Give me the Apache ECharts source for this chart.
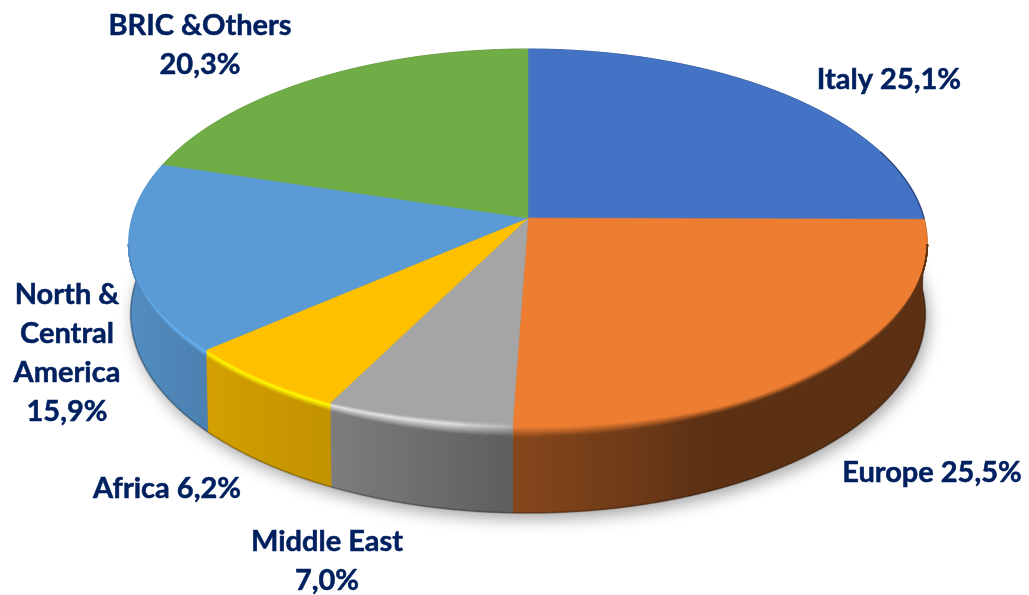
<!DOCTYPE html>
<html>
<head>
<meta charset="utf-8">
<style>
html, body { margin: 0; padding: 0; background: #fff; }
#container { width: 1029px; height: 595px; }
</style>
<script src="https://cdn.jsdelivr.net/npm/echarts@6/dist/echarts.min.js"></script>
</head>
<body>
<div id="container"></div>
<script>
// slices, clockwise from 12 o'clock
var names = ['Italy', 'Europe', 'Middle East', 'Africa', 'North & Central America', 'BRIC &Others'];
var values = [25.1, 25.5, 7.0, 6.2, 15.9, 20.3];
var labelLines = [
    ['Italy'],
    ['Europe'],
    ['Middle East', ''],
    ['Africa'],
    ['North &', 'Central', 'America', ''],
    ['BRIC &Others', '']
];
var colors = ['#4472c4', '#ed7d31', '#a5a5a5', '#ffc000', '#5b9bd5', '#70ad47'];
var glints = ['#4472c4', '#ed7d31', '#e2e2e2', '#ffff00', '#66b6fa', '#70ad47'];
var labelAt = [[889, 80], [932, 473], [327, 561], [167, 489], [67, 353], [200, 45]];

// projection of the tilted disc
var CX = 528, CY = 218, RX = 396, RY = 190.8, K = -0.129;
var ELLIPSE_MID = 243, STRIPS = 14;

// bevel height by screen y
var riseY = [243, 358, 411, 437];
var riseH = [0, 8, 8.5, 14];

// wall brightness, left to right
var shadeX = [130, 205, 330, 511, 650, 700, 928];
var shadeF = [0.90, 0.83, 0.76, 0.57, 0.45, 0.39, 0.39];
var glintX = [130, 200, 330, 450, 505, 530, 928];
var glintF = [0.7, 0.85, 1, 1, 0.3, 0, 0];

var mix = function(a, b, t) {
    return echarts.color.lerp(Math.max(0, Math.min(1, t)), [a, b]);
};

function lookup(xs, fs, x) {
    if (x <= xs[0]) {
        return fs[0];
    }
    for (var i = 1; i < xs.length; i++) {
        if (x <= xs[i]) {
            return fs[i - 1] + (fs[i] - fs[i - 1]) * (x - xs[i - 1]) / (xs[i] - xs[i - 1]);
        }
    }
    return fs[fs.length - 1];
}

function rim(t) {
    var u = Math.sin(t), v = -Math.cos(t), w = 1 + K * v;
    return [CX + RX * u / w, CY + RY * v / w, v];
}

function rise(p) {
    return lookup(riseY, riseH, p[1]);
}

function lower(p) {
    var d = 70 + 6 * p[2];
    return [CX + (p[0] - CX) * 0.995, p[1] + d];
}

// the flat face stops short of the rim, so the radial edge meets the bevel further round
function frontAngle(t) {
    var end = rim(t);
    if (end[2] <= 0) {
        return t;
    }
    var side = function(s) {
        var p = rim(s), y = p[1] - rise(p);
        return (end[0] - CX) * (y - CY) - (end[1] - CY) * (p[0] - CX);
    };
    var dir = t < Math.PI ? 1 : -1;
    var first = side(t);
    for (var s = t; (s - Math.PI) * dir < 0; s += dir * 0.002) {
        if (side(s) * first <= 0) {
            return s;
        }
    }
    return t;
}

function arcPoints(a, b) {
    var pts = [], n = Math.max(2, Math.ceil(Math.abs(b - a) / 0.01));
    for (var i = 0; i <= n; i++) {
        pts.push(rim(a + (b - a) * i / n));
    }
    return pts;
}

function xGradient(colorAt) {
    var stops = [];
    for (var x = 130; x <= 930; x += 20) {
        stops.push({ offset: (x - 130) / 800, color: colorAt(x) });
    }
    return new echarts.graphic.LinearGradient(130, 0, 930, 0, stops, true);
}

var total = values.reduce(function(a, b) { return a + b; }, 0);
var angles = [0];
values.forEach(function(v, i) {
    angles.push(angles[i] + v / total * Math.PI * 2);
});

function range(i) {
    return [frontAngle(angles[i]), frontAngle(angles[i + 1])];
}

function renderWall(params, api) {
    var i = api.value(0), r = range(i), top = arcPoints(r[0], r[1]);
    var fill = xGradient(function(x) {
        return mix('#000000', colors[i], lookup(shadeX, shadeF, x));
    });
    var bottom = top.map(lower);
    return {
        type: 'group',
        children: [{
            type: 'polygon',
            shape: { points: top.map(function(p) { return [p[0], p[1]]; }).concat(bottom.slice().reverse()) },
            style: { fill: fill, stroke: fill, lineWidth: 0.6 }
        }, {
            type: 'polyline',
            shape: { points: bottom },
            style: { fill: null, stroke: 'rgba(0,0,0,0.22)', lineWidth: 2 }
        }]
    };
}

function renderTop(params, api) {
    var i = api.value(0), r = range(i), arc = arcPoints(r[0], r[1]);
    var first = arc[0], last = arc[arc.length - 1];
    var pts = [[CX, CY], [first[0], first[1] - rise(first)]]
        .concat(arc.map(function(p) { return [p[0], p[1]]; }))
        .concat([[last[0], last[1] - rise(last)]]);
    var children = [{
        type: 'polygon',
        shape: { points: pts },
        style: { fill: colors[i], stroke: colors[i], lineWidth: 0.5 }
    }];

    // bevel along the front rim, inner strip first
    var front = arc.filter(function(p) { return p[1] >= ELLIPSE_MID; });
    if (front.length > 1) {
        for (var j = STRIPS; j >= 0; j--) {
            (function(f) {
                children.push({
                    type: 'polyline',
                    shape: {
                        points: front.map(function(p) {
                            return [p[0], p[1] - rise(p) * f];
                        })
                    },
                    style: {
                        fill: null,
                        lineWidth: 1.6,
                        stroke: xGradient(function(x) {
                            var peak = mix(colors[i], glints[i], lookup(glintX, glintF, x));
                            var wall = mix('#000000', colors[i], lookup(shadeX, shadeF, x));
                            return f > 0.7
                                ? mix(colors[i], peak, (1 - f) / 0.3)
                                : mix(peak, wall, 1 - f / 0.7);
                        })
                    }
                });
            })(j / STRIPS);
        }
    }
    if (i === 0) {
        children.push({
            type: 'polyline',
            shape: { points: arcPoints(1.2, r[1]) },
            style: { fill: null, stroke: 'rgba(20,40,90,0.5)', lineWidth: 1.6 }
        });
    }
    return { type: 'group', children: children };
}

function renderShadow() {
    return {
        type: 'polygon',
        shape: { points: arcPoints(0, Math.PI * 2).map(lower) },
        style: {
            fill: '#777',
            shadowColor: 'rgba(0,0,0,0.35)',
            shadowBlur: 16,
            shadowOffsetX: 3,
            shadowOffsetY: 6
        }
    };
}

var sliceData = values.map(function(v, i) { return [i, v, names[i]]; });

var labels = values.map(function(v, i) {
    var txt = v.toFixed(1).replace('.', ',') + '%';
    var lines = labelLines[i].slice();
    var tail = lines.pop();
    var text = lines.length ? lines.concat([(tail ? tail + ' ' : '') + txt]).join('\n') : tail + ' ' + txt;
    return {
        type: 'text',
        x: labelAt[i][0],
        y: labelAt[i][1],
        style: {
            text: text,
            fill: '#002060',
            stroke: '#002060',
            lineWidth: 0.5,
            font: 'bold 29px Lato, "Open Sans", sans-serif',
            lineHeight: 39,
            align: 'center',
            verticalAlign: 'middle'
        }
    };
});

var dom = document.getElementById('container');
var myChart = echarts.init(dom);
var option = {
    animation: false,
    backgroundColor: '#ffffff',
    tooltip: { show: false },
    graphic: labels,
    series: [{
        type: 'custom',
        coordinateSystem: 'none',
        renderItem: renderShadow,
        data: [[0]],
        z: 1,
        silent: true
    }, {
        type: 'custom',
        coordinateSystem: 'none',
        renderItem: renderWall,
        data: sliceData,
        z: 2,
        silent: true
    }, {
        type: 'custom',
        coordinateSystem: 'none',
        renderItem: renderTop,
        data: sliceData,
        z: 3,
        silent: true
    }]
};
myChart.setOption(option);
</script>
</body>
</html>
